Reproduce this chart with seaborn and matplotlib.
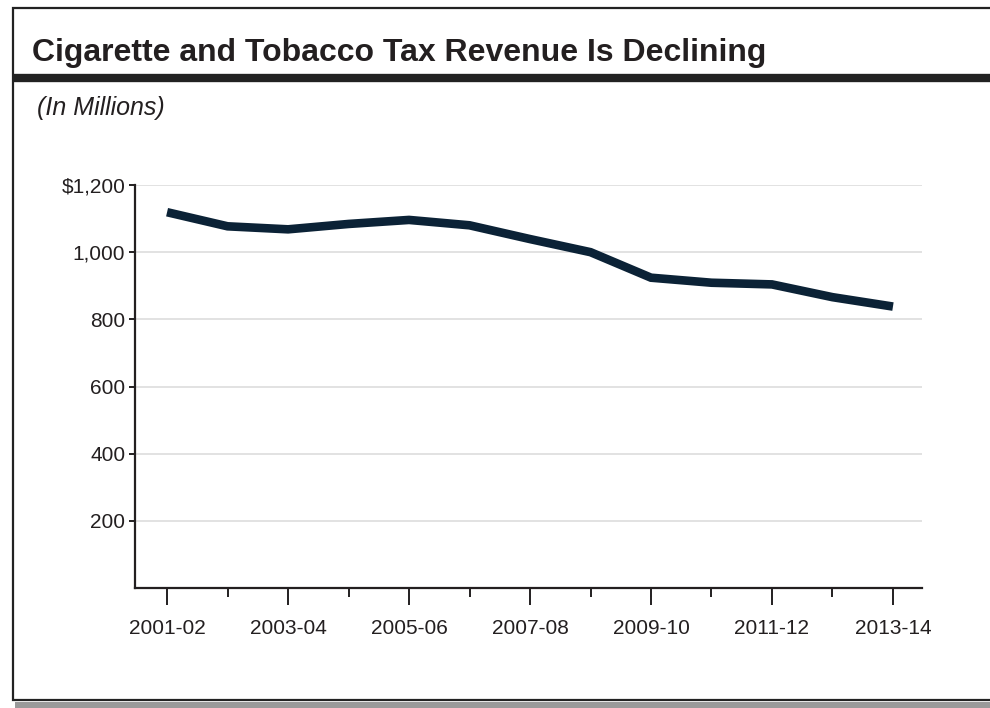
import numpy as np
import pandas as pd
import matplotlib
matplotlib.use('Agg')
import matplotlib.pyplot as plt
import seaborn as sns
from matplotlib.patches import Rectangle
from matplotlib.lines import Line2D

# Revenue by fiscal year (in millions)
years = ['2001-02', '2002-03', '2003-04', '2004-05', '2005-06', '2006-07', '2007-08',
         '2008-09', '2009-10', '2010-11', '2011-12', '2012-13', '2013-14']
revenue = [1119, 1077, 1068, 1084, 1096, 1080, 1039, 1000, 924, 909, 904, 866, 838]
y_ticks = [200, 400, 600, 800, 1000, 1200]
y_tick_labels = ['200', '400', '600', '800', '1,000', '$1,200']

df = pd.DataFrame({'idx': np.arange(len(years)), 'revenue': revenue})

sns.set_style('white')
plt.rcParams['font.family'] = ['Liberation Sans', 'DejaVu Sans']

fig = plt.figure(figsize=(9.9, 7.08), dpi=100)
W, H = 990, 708

def fx(px):
    return px / W

def fy(py):
    return 1 - py / H

# outer frame, shadow and title band
fig.patches.append(Rectangle((fx(15), fy(708)), fx(990) - fx(15), fy(702) - fy(708),
                             transform=fig.transFigure, facecolor='#9a9a9a', edgecolor='none',
                             zorder=-2))
fig.patches.append(Rectangle((fx(13), fy(700)), 1.2, fy(8) - fy(700),
                             transform=fig.transFigure, facecolor='white', edgecolor='#222222',
                             linewidth=1.6, zorder=-1))
fig.lines.append(Line2D([fx(13), 1], [fy(78), fy(78)], transform=fig.transFigure,
                        color='#222222', linewidth=6, solid_capstyle='butt'))

fig.text(fx(32), fy(53), 'Cigarette and Tobacco Tax Revenue Is Declining',
         fontsize=23, fontweight='bold', color='#231f20', va='center', ha='left')
fig.text(fx(37), fy(108), '(In Millions)', fontsize=18, fontstyle='italic',
         color='#231f20', va='center', ha='left')

ax = fig.add_axes([fx(135), fy(588), fx(922) - fx(135), fy(185) - fy(588)])
ax.patch.set_alpha(0)
sns.lineplot(data=df, x='idx', y='revenue', ax=ax, color='#0b2236', linewidth=6.2)
ax.lines[0].set_solid_capstyle('butt')
ax.lines[0].set_solid_joinstyle('miter')

ax.set_xlim(-0.53, 12.48)
ax.set_ylim(0, 1200)
ax.set_xlabel('')
ax.set_ylabel('')

ax.set_xticks(np.arange(0, len(years), 2))
ax.set_xticklabels(years[::2])
ax.set_xticks(np.arange(1, len(years), 2), minor=True)
ax.set_yticks(y_ticks)
ax.set_yticklabels(y_tick_labels)

ax.yaxis.grid(True, color='#dddddd', linewidth=1.2)
ax.set_axisbelow(True)

for s in ['top', 'right']:
    ax.spines[s].set_visible(False)
for s in ['left', 'bottom']:
    ax.spines[s].set_color('#231f20')
    ax.spines[s].set_linewidth(1.6)

ax.tick_params(axis='x', which='major', direction='out', length=12.5, width=1.4,
               color='#231f20', labelsize=15, pad=10, labelcolor='#231f20')
ax.tick_params(axis='x', which='minor', direction='out', length=6.5, width=1.4,
               color='#231f20')
ax.tick_params(axis='y', which='major', direction='out', length=4, width=1.4,
               color='#231f20', labelsize=15, pad=3, labelcolor='#231f20')
ax.tick_params(left=True, bottom=True)
ax.tick_params(axis='x', which='minor', bottom=True)

fig.savefig('out.png', dpi=100)
